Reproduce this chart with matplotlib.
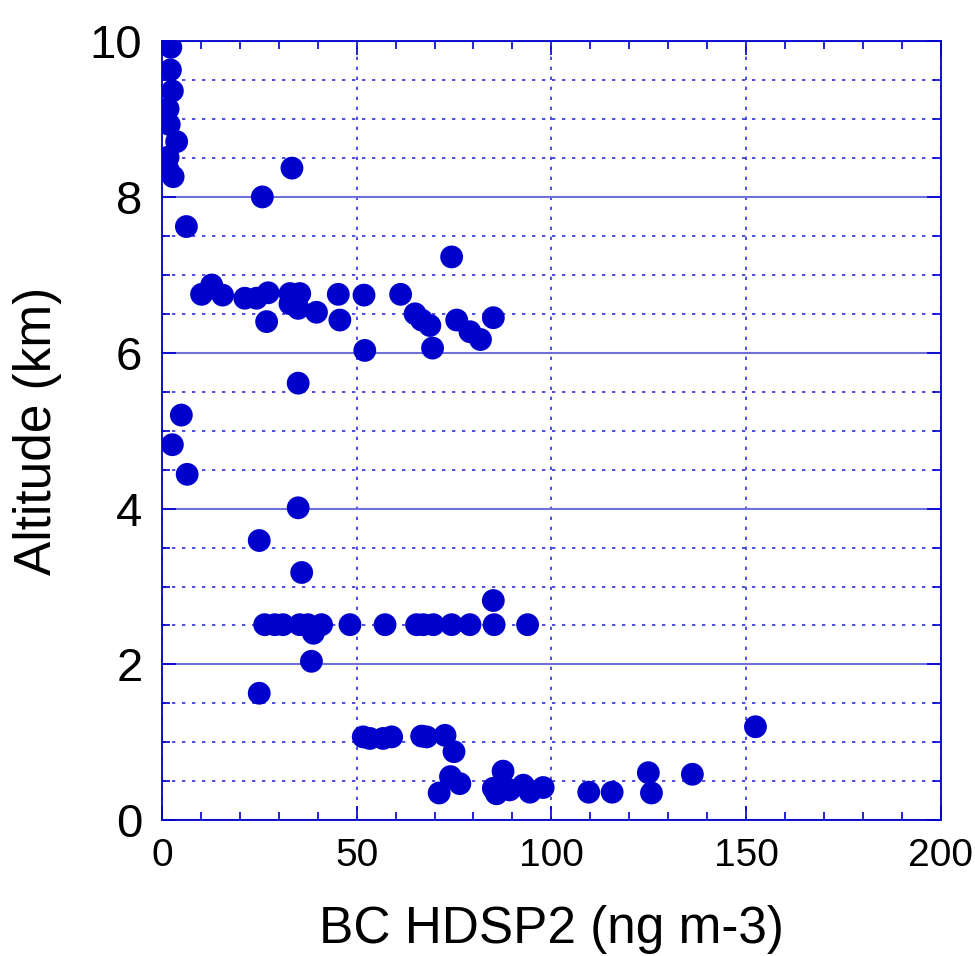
import matplotlib

matplotlib.use("Agg")
import matplotlib.pyplot as plt
from matplotlib.ticker import MultipleLocator

plt.rcParams["font.family"] = ["Liberation Sans", "DejaVu Sans"]

BLUE = "#0000cc"

# BC (ng m-3) vs altitude (km)
bc = [2.3, 2.2, 2.7, 1.6, 1.9, 3.8, 1.6, 1.6, 2.9, 25.8, 33.4, 6.3,
      10.2, 12.8, 15.6, 21.3, 24.3, 27.3, 26.9, 32.9, 35.4, 32.9, 35.0, 39.7,
      45.3, 45.7, 51.9, 52.1, 61.3, 65.0, 66.7, 68.8, 69.5, 74.4, 75.7, 79.1,
      81.8, 85.1, 35.0,
      5.0, 2.7, 6.5,
      35.0, 25.0, 35.9, 85.1,
      26.4, 29.0, 31.1, 35.4, 37.5, 41.0, 48.3, 57.3, 65.4, 67.1, 69.7, 74.4,
      79.1, 85.3, 93.9, 38.9, 38.4, 25.0,
      51.7, 53.4, 56.8, 59.0, 66.7, 68.0, 72.7, 75.0, 74.1, 76.5, 71.2, 87.6,
      85.1, 85.9, 89.3, 92.8, 94.5, 97.9, 109.6, 115.6, 124.9, 125.7, 136.2, 152.4]
alt = [9.92, 9.63, 9.36, 9.13, 8.93, 8.71, 8.51, 8.35, 8.26, 8.00, 8.37, 7.62,
       6.75, 6.87, 6.74, 6.70, 6.70, 6.77, 6.40, 6.76, 6.76, 6.63, 6.57, 6.52,
       6.75, 6.42, 6.74, 6.03, 6.75, 6.50, 6.42, 6.35, 6.06, 7.23, 6.42, 6.27,
       6.17, 6.45, 5.61,
       5.20, 4.82, 4.44,
       4.01, 3.59, 3.18, 2.82,
       2.51, 2.51, 2.51, 2.51, 2.51, 2.51, 2.51, 2.51, 2.51, 2.51, 2.51, 2.51,
       2.51, 2.51, 2.51, 2.40, 2.04, 1.63,
       1.07, 1.05, 1.05, 1.07, 1.08, 1.07, 1.09, 0.88, 0.56, 0.47, 0.35, 0.63,
       0.41, 0.34, 0.39, 0.45, 0.36, 0.42, 0.36, 0.36, 0.61, 0.35, 0.59, 1.20]

fig = plt.figure(figsize=(9.75, 9.56), dpi=100)
ax = fig.add_axes([0.166, 0.142, 0.799, 0.815])

ax.scatter(bc, alt, s=270, color=BLUE, edgecolors="none", zorder=3)

ax.set_xlim(0, 200)
ax.set_ylim(0, 10)
ax.xaxis.set_major_locator(MultipleLocator(50))
ax.xaxis.set_minor_locator(MultipleLocator(10))
ax.yaxis.set_major_locator(MultipleLocator(2))
ax.yaxis.set_minor_locator(MultipleLocator(0.5))

# solid major y grid, dotted minor y grid, dotted x grid
ax.grid(True, axis="y", which="major", color="#7070dd", lw=1.5, ls="-")
ax.grid(True, axis="y", which="minor", color="#3030dd", lw=1.2, ls=(0, (2, 4)))
ax.grid(True, axis="x", which="major", color="#3030dd", lw=1.2, ls=(0, (2, 4)))
ax.set_axisbelow(True)

for sp in ax.spines.values():
    sp.set_color(BLUE)
    sp.set_linewidth(1.3)
ax.tick_params(which="both", direction="in", top=True, right=True, color=BLUE)
ax.tick_params(which="major", length=10, width=1.2)
ax.tick_params(which="minor", length=6, width=1.2)
ax.tick_params(axis="x", labelsize=28, pad=13)
ax.tick_params(axis="y", labelsize=34, pad=14)

ax.set_xlabel("BC HDSP2 (ng m-3)", fontsize=37, labelpad=22)
ax.set_ylabel("Altitude (km)", fontsize=37, labelpad=20)

fig.savefig("out.png", dpi=100)
